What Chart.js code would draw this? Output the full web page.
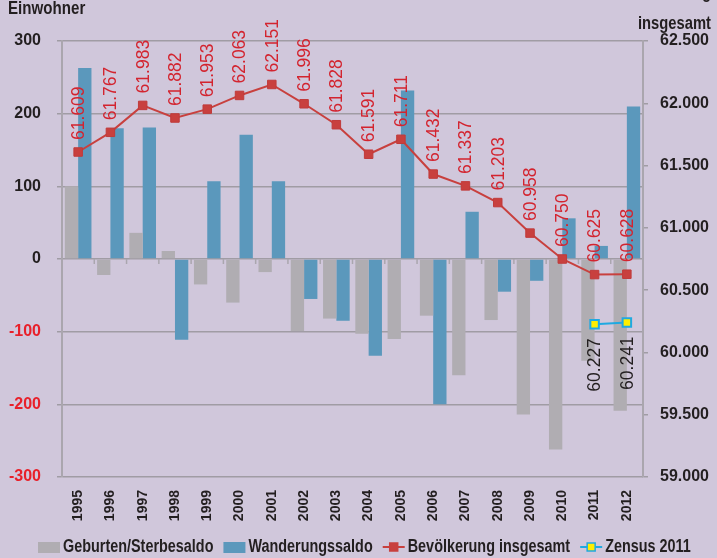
<!DOCTYPE html>
<html>
<head>
<meta charset="utf-8">
<script src="https://cdn.jsdelivr.net/npm/chart.js@4/dist/chart.umd.min.js"></script>
<style>
  html, body { margin: 0; padding: 0; background: #d0c7db; }
  #wrap { width: 717px; height: 558px; position: relative; }
  canvas { display: block; }
</style>
</head>
<body>
<div id="wrap"><canvas id="c" width="717" height="558"></canvas></div>
<script>
const years = ['1995','1996','1997','1998','1999','2000','2001','2002','2003','2004','2005','2006','2007','2008','2009','2010','2011','2012'];
const geburtenSterbesaldo = [100, -22, 36, 11, -35, -60, -18, -99, -82, -103, -110, -78, -160, -84, -214, -262, -140, -209];
const wanderungssaldo = [263, 180, 181, -111, 107, 171, 107, -55, -85, -133, 232, -200, 65, -45, -30, 56, 18, 210];
const bevoelkerungInsgesamt = [61.609, 61.767, 61.983, 61.882, 61.953, 62.063, 62.151, 61.996, 61.828, 61.591, 61.711, 61.432, 61.337, 61.203, 60.958, 60.750, 60.625, 60.628];
const zensus2011 = [null, null, null, null, null, null, null, null, null, null, null, null, null, null, null, null, 60.227, 60.241];
const seriesNames = ['Geburten/Sterbesaldo', 'Wanderungssaldo', 'Bevölkerung insgesamt', 'Zensus 2011'];
const leftAxisRange = [-300, 300, 100];
const rightAxisRange = [59.0, 62.5, 0.5];
const leftAxisTitle = 'Einwohner';
const rightAxisTitle = ['Bevölkerung', 'insgesamt'];

const ARIAL = "'Liberation Sans', Arial, sans-serif";
const COL = {
  gray: '#b0adb2', blue: '#5b98bc', red: '#c8403e', redText: '#d3242f',
  cyan: '#1fa9e1', yellow: '#ffee00', text: '#231f20', grid: '#a09ca4', axis: '#aaa6ae', neg: '#e8202a'
};

const fmt3 = v => v.toFixed(3);

function narrowText(ctx, text, x, y, align, sq) {
  const w = ctx.measureText(text).width * sq;
  let x0 = x;
  if (align === 'right') x0 = x - w;
  else if (align === 'center') x0 = x - w / 2;
  ctx.save();
  ctx.translate(x0, y);
  ctx.scale(sq, 1);
  ctx.textAlign = 'left';
  ctx.fillText(text, 0, 0);
  ctx.restore();
  return w;
}

const zeroTicksPlugin = {
  id: 'zeroTicks',
  beforeDatasetsDraw(chart) {
    const ctx = chart.ctx;
    const xs = chart.scales.x, ys = chart.scales.y;
    const y0 = ys.getPixelForValue(0);
    ctx.save();
    ctx.strokeStyle = COL.axis;
    ctx.lineWidth = 1.5;
    for (let i = 0; i < years.length - 1; i++) {
      const bx = (xs.getPixelForTick(i) + xs.getPixelForTick(i + 1)) / 2;
      ctx.beginPath();
      ctx.moveTo(bx, y0);
      ctx.lineTo(bx, y0 + 5);
      ctx.stroke();
    }
    ctx.restore();
  }
};

const labelPlugin = {
  id: 'valueLabels',
  afterDatasetsDraw(chart) {
    const ctx = chart.ctx;
    const drawSet = (idx, values, color, above) => {
      const meta = chart.getDatasetMeta(idx);
      meta.data.forEach((pt, i) => {
        const v = values[i];
        if (v === null || v === undefined) return;
        ctx.save();
        ctx.font = "17.5px " + ARIAL;
        ctx.fillStyle = color;
        ctx.textBaseline = 'middle';
        if (above) {
          ctx.translate(pt.x, pt.y - 12);
          ctx.rotate(-Math.PI / 2);
          ctx.textAlign = 'left';
        } else {
          ctx.translate(pt.x, pt.y + 14);
          ctx.rotate(-Math.PI / 2);
          ctx.textAlign = 'right';
        }
        ctx.fillText(fmt3(v), 0, 1);
        ctx.restore();
      });
    };
    drawSet(2, bevoelkerungInsgesamt, COL.redText, true);
    drawSet(3, zensus2011, COL.text, false);
  }
};

const extrasPlugin = {
  id: 'extras',
  afterDraw(chart) {
    const ctx = chart.ctx;
    ctx.save();
    ctx.fillStyle = COL.text;
    ctx.font = "bold 18px " + ARIAL;
    ctx.textBaseline = 'middle';
    narrowText(ctx, leftAxisTitle, 8, 9, 'left', 0.84);
    ctx.textBaseline = 'alphabetic';
    narrowText(ctx, rightAxisTitle[0], 711, -2, 'right', 0.82);
    narrowText(ctx, rightAxisTitle[1], 711, 29, 'right', 0.82);

    // legend
    const items = [
      {type: 'box', color: COL.gray},
      {type: 'box', color: COL.blue},
      {type: 'line', color: COL.red, fill: COL.red, stroke: COL.red},
      {type: 'line', color: COL.cyan, fill: COL.yellow, stroke: COL.cyan}
    ];
    ctx.font = "bold 18px " + ARIAL;
    const SQ = 0.8, sym = 22, gap1 = 3, gap2 = 10;
    let x = 38;
    const cy = 547;
    items.forEach((it, i) => {
      if (it.type === 'box') {
        ctx.fillStyle = it.color;
        ctx.fillRect(x, cy - 5, sym, 11);
      } else {
        ctx.strokeStyle = it.color;
        ctx.lineWidth = 2;
        ctx.beginPath();
        ctx.moveTo(x, cy);
        ctx.lineTo(x + sym, cy);
        ctx.stroke();
        ctx.fillStyle = it.fill;
        ctx.fillRect(x + sym / 2 - 4, cy - 4, 8, 8);
        ctx.strokeStyle = it.stroke;
        ctx.lineWidth = 1.5;
        ctx.strokeRect(x + sym / 2 - 4, cy - 4, 8, 8);
      }
      x += sym + gap1;
      ctx.fillStyle = COL.text;
      ctx.textBaseline = 'middle';
      const w = narrowText(ctx, seriesNames[i], x, cy, 'left', SQ);
      x += w + gap2;
    });
    ctx.restore();
  }
};

new Chart(document.getElementById('c'), {
  type: 'bar',
  data: {
    labels: years,
    datasets: [
      {
        label: seriesNames[0], data: geburtenSterbesaldo, backgroundColor: COL.gray,
        yAxisID: 'y', order: 2, categoryPercentage: 0.825, barPercentage: 1.0
      },
      {
        label: seriesNames[1], data: wanderungssaldo, backgroundColor: COL.blue,
        yAxisID: 'y', order: 2, categoryPercentage: 0.825, barPercentage: 1.0
      },
      {
        type: 'line', label: seriesNames[2], data: bevoelkerungInsgesamt, yAxisID: 'y2', order: 1,
        borderColor: COL.red, borderWidth: 2, backgroundColor: COL.red,
        pointStyle: 'rect', pointRadius: 6, pointBorderWidth: 1, pointBorderColor: '#c03a3a',
        pointBackgroundColor: COL.red, tension: 0, fill: false
      },
      {
        type: 'line', label: seriesNames[3], data: zensus2011, yAxisID: 'y2', order: 0,
        borderColor: COL.cyan, borderWidth: 2, backgroundColor: COL.yellow,
        pointStyle: 'rect', pointRadius: 6, pointBorderWidth: 2, pointBorderColor: COL.cyan,
        pointBackgroundColor: COL.yellow, tension: 0, fill: false, spanGaps: false
      }
    ]
  },
  options: {
    responsive: false,
    animation: false,
    layout: { padding: { top: 41, left: 0, right: 0, bottom: 0 } },
    plugins: {
      legend: { display: false },
      tooltip: { enabled: false },
      title: { display: false }
    },
    scales: {
      x: {
        offset: true,
        grid: { display: false },
        border: { display: false },
        ticks: {
          minRotation: 90, maxRotation: 90, padding: 5, autoSkip: false,
          color: COL.text, font: { family: ARIAL, size: 14, weight: 'bold' }
        },
        afterFit(s) { s.height = 81; }
      },
      y: {
        position: 'left',
        min: leftAxisRange[0], max: leftAxisRange[1],
        ticks: {
          stepSize: leftAxisRange[2], padding: 16,
          callback: v => String(v),
          color: ctx => (ctx.tick && ctx.tick.value < 0) ? COL.neg : COL.text,
          font: { family: ARIAL, size: 16, weight: 'bold' }
        },
        grid: { color: COL.grid, lineWidth: 1.5, tickLength: 5, drawTicks: true },
        border: { display: true, color: COL.axis, width: 2 },
        afterFit(s) { s.width = 62; }
      },
      y2: {
        position: 'right',
        min: rightAxisRange[0], max: rightAxisRange[1],
        ticks: {
          stepSize: rightAxisRange[2], padding: 12,
          callback: v => fmt3(v),
          color: COL.text,
          font: { family: ARIAL, size: 16, weight: 'bold' }
        },
        grid: { drawOnChartArea: false, color: COL.grid, lineWidth: 1.5, tickLength: 5, drawTicks: true },
        border: { display: true, color: COL.axis, width: 2 },
        afterFit(s) { s.width = 74; }
      }
    }
  },
  plugins: [zeroTicksPlugin, labelPlugin, extrasPlugin]
});
</script>
</body>
</html>
